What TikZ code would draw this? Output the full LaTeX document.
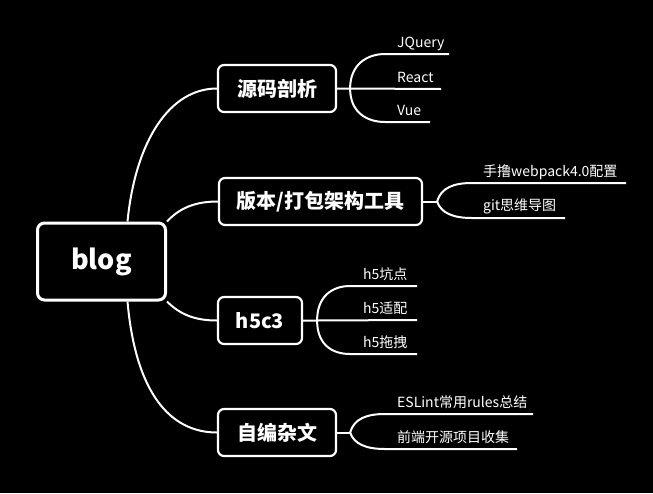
\documentclass[tikz,border=0pt]{standalone}
\usepackage{fontspec}
\setmainfont{Noto Sans CJK SC}

\begin{document}
\begin{tikzpicture}[x=1pt,y=-1pt,
  root/.style={draw=white,line width=3pt,rounded corners=7pt,fill=black,text=white,
    font=\bfseries\fontsize{27}{30}\selectfont,minimum width=128pt,minimum height=77pt},
  topic/.style={draw=white,line width=2.2pt,rounded corners=6pt,fill=black,text=white,
    font=\bfseries\fontsize{20}{24}\selectfont,minimum height=47pt},
  leaf/.style={text=white,font=\fontsize{14}{16}\selectfont,anchor=base west,inner sep=0pt},
  link/.style={draw=white,line width=2pt}]
\fill[black] (0,0) rectangle (653,493);
\useasboundingbox (0,0) rectangle (653,493);

% main topics
\node[root]                       (blog)   at (101.5,261.5) {blog};
\node[topic,minimum width=118pt]  (yuanma) at (277,88.5)    {源码剖析};
\node[topic,minimum width=203pt]  (banben) at (320.5,201.5) {版本/打包架构工具};
\node[topic,minimum width=84pt]   (h5c3)   at (260,320.5)   {h5c3};
\node[topic,minimum width=118pt]  (zabian) at (277,432.5)   {自编杂文};

\draw[link] ([xshift=26pt]blog.north) .. controls +(8,-81) and +(-47,0) .. (yuanma.west);
\draw[link] (blog.north east) .. controls +(13,-14) and +(-22,0) .. (banben.west);
\draw[link] (blog.south east) .. controls +(13,13) and +(-22,0) .. (h5c3.west);
\draw[link] ([xshift=26pt]blog.south) .. controls +(8,91) and +(-47,0) .. (zabian.west);

% leaves
\node[leaf] (jquery)   at (397,47)  {JQuery};
\node[leaf] (react)    at (397,82)  {React};
\node[leaf] (vue)      at (397,115) {Vue};
\node[leaf] (webpack)  at (483,176) {手撸webpack4.0配置};
\node[leaf] (git)      at (483,210) {git思维导图};
\node[leaf] (kengdian) at (363,279) {h5坑点};
\node[leaf] (shipei)   at (363,313) {h5适配};
\node[leaf] (tuozhuai) at (363,347) {h5拖拽};
\node[leaf] (eslint)   at (397,407) {ESLint常用rules总结};
\node[leaf] (kaiyuan)  at (397,442) {前端开源项目收集};

\coordinate (s1) at ([xshift=13pt]yuanma.east);
\coordinate (s2) at ([xshift=14pt]banben.east);
\coordinate (s3) at ([xshift=14pt]h5c3.east);
\coordinate (s4) at ([xshift=13pt]zabian.east);

\coordinate (jquery-a) at (385,54);    \coordinate (jquery-b) at (449,54);
\coordinate (react-b) at (441,89);
\coordinate (vue-a) at (385,122);      \coordinate (vue-b) at (430,122);
\coordinate (webpack-a) at (472,183);  \coordinate (webpack-b) at (626,183);
\coordinate (git-a) at (472,218);      \coordinate (git-b) at (565,218);
\coordinate (kengdian-a) at (350,286); \coordinate (kengdian-b) at (417,286);
\coordinate (shipei-b) at (417,320);
\coordinate (tuozhuai-a) at (350,354); \coordinate (tuozhuai-b) at (417,354);
\coordinate (eslint-a) at (385,414);   \coordinate (eslint-b) at (533,414);
\coordinate (kaiyuan-a) at (385,449);  \coordinate (kaiyuan-b) at (517,449);

\draw[link] (yuanma.east) -- (s1) -- (react-b);
\draw[link] (s1) .. controls +(0,-24) and +(-18,0) .. (jquery-a) -- (jquery-b);
\draw[link] (s1) .. controls +(0,24) and +(-18,0) .. (vue-a) -- (vue-b);

\draw[link] (banben.east) -- (s2);
\draw[link] (s2) .. controls +(4,-14) and +(-18,0) .. (webpack-a) -- (webpack-b);
\draw[link] (s2) .. controls +(4,12) and +(-18,0) .. (git-a) -- (git-b);

\draw[link] (h5c3.east) -- (s3) -- (shipei-b);
\draw[link] (s3) .. controls +(0,-24) and +(-18,0) .. (kengdian-a) -- (kengdian-b);
\draw[link] (s3) .. controls +(0,24) and +(-18,0) .. (tuozhuai-a) -- (tuozhuai-b);

\draw[link] (zabian.east) -- (s4);
\draw[link] (s4) .. controls +(4,-14) and +(-18,0) .. (eslint-a) -- (eslint-b);
\draw[link] (s4) .. controls +(4,12) and +(-18,0) .. (kaiyuan-a) -- (kaiyuan-b);
\end{tikzpicture}
\end{document}
